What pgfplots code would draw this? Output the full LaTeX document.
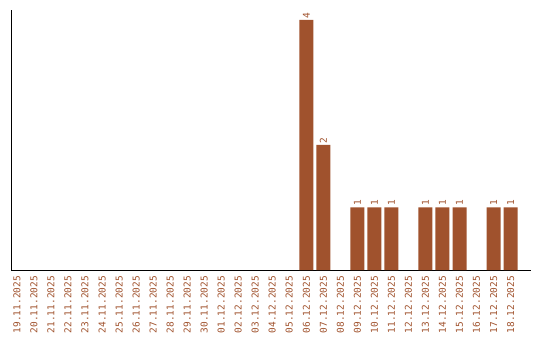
\documentclass[border=0pt]{standalone}
\usepackage{fontspec}
\setmonofont{DejaVu Sans Mono}
\usepackage{pgfplots}
\pgfplotsset{compat=1.18}
\definecolor{barc}{HTML}{A0522D}
\begin{document}
\begin{tikzpicture}
\begin{axis}[
  at={(11bp,70bp)}, anchor=south west,
  scale only axis, width=520bp, height=260bp,
  xmin=-0.35, xmax=30.2, ymin=0, ymax=4.16,
  axis lines=left, axis line style={-, black, line width=0.8pt},
  ytick=\empty,
  xtick={0,...,29},
  major tick length=0pt,
  xticklabels={19.11.2025,20.11.2025,21.11.2025,22.11.2025,23.11.2025,24.11.2025,25.11.2025,26.11.2025,27.11.2025,28.11.2025,29.11.2025,30.11.2025,01.12.2025,02.12.2025,03.12.2025,04.12.2025,05.12.2025,06.12.2025,07.12.2025,08.12.2025,09.12.2025,10.12.2025,11.12.2025,12.12.2025,13.12.2025,14.12.2025,15.12.2025,16.12.2025,17.12.2025,18.12.2025},
  xticklabel style={rotate=90, anchor=east, text=barc, font=\ttfamily\fontsize{9.5}{11}\selectfont, inner sep=0pt, xshift=0pt},
  xticklabel shift=6bp,
  clip=false,
]
\addplot[ybar, bar width=14bp, fill=barc, draw=none,
  nodes near coords={\fontsize{9.5}{11}\selectfont\ttfamily\pgfmathprintnumber[assume math mode=true]{\pgfplotspointmeta}},
  every node near coord/.append style={rotate=90, anchor=west, text=barc, inner sep=1.5pt}]
  coordinates {(17,4) (18,2) (20,1) (21,1) (22,1) (24,1) (25,1) (26,1) (28,1) (29,1)};
\end{axis}
\pgfresetboundingbox
\path[use as bounding box] (0,0) rectangle (540bp,340bp);
\end{tikzpicture}
\end{document}
